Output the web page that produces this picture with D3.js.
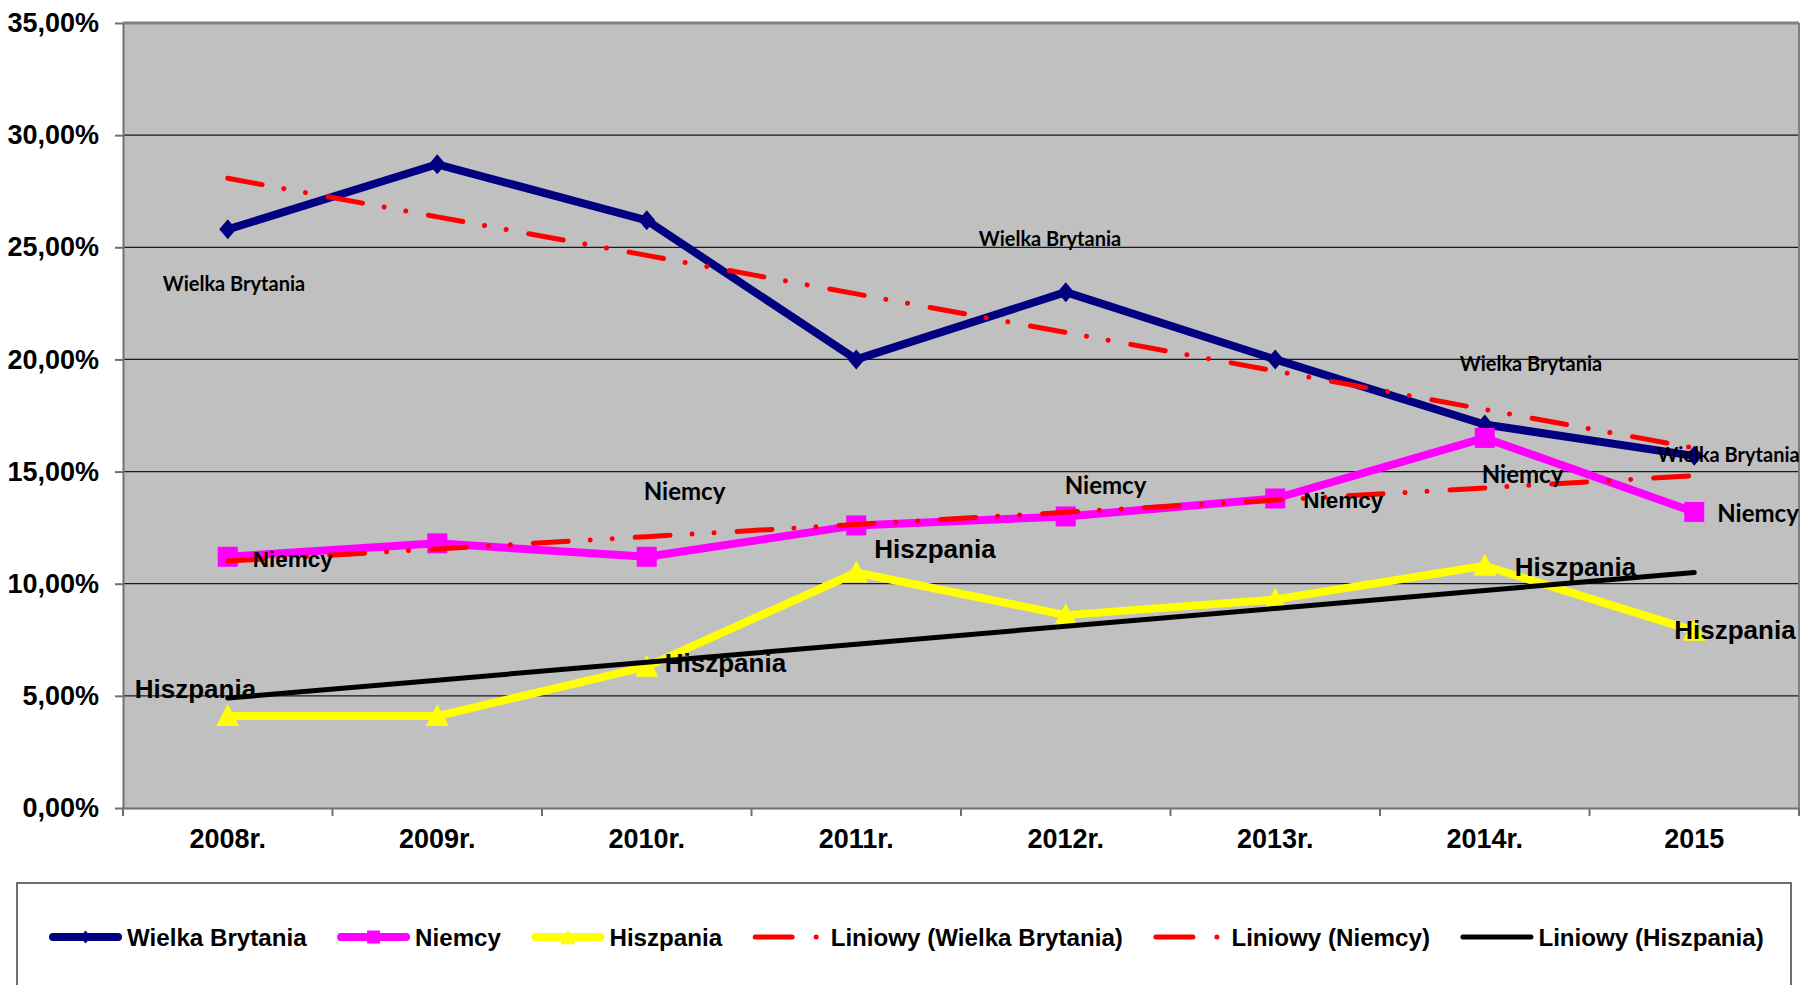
<!DOCTYPE html>
<html><head><meta charset="utf-8">
<script src="https://cdn.jsdelivr.net/npm/d3@7"></script>
<style>html,body{margin:0;padding:0;background:#fff;overflow:hidden}</style>
</head><body>
<svg id="chart" width="1800" height="985"></svg>
<script>
// ---- data ----
const categories = ["2008r.", "2009r.", "2010r.", "2011r.", "2012r.", "2013r.", "2014r.", "2015"];
const seriesNames = ["Wielka Brytania", "Niemcy", "Hiszpania"];
const wielkaBrytania = [25.8, 28.7, 26.2, 20.0, 23.0, 20.0, 17.1, 15.7];
const niemcy = [11.2, 11.8, 11.2, 12.6, 13.0, 13.8, 16.5, 13.2];
const hiszpania = [4.1, 4.1, 6.3, 10.5, 8.6, 9.3, 10.8, 7.9];
const yTickValues = [0, 5, 10, 15, 20, 25, 30, 35];
const trendNames = ["Liniowy (Wielka Brytania)", "Liniowy (Niemcy)", "Liniowy (Hiszpania)"];

// ---- label placement (pixel offsets from each point) ----
const labelLayout = [
  {s:0, i:0, dx:-65, dy:62, f:"c"},
  {s:0, i:4, dx:-87, dy:-46, f:"c"},
  {s:0, i:6, dx:-25, dy:-53, f:"c"},
  {s:0, i:7, dx:-37, dy:6, f:"c"},
  {s:1, i:0, dx:25, dy:10, f:"a"},
  {s:1, i:2, dx:-3, dy:-57, f:"c"},
  {s:1, i:4, dx:-1, dy:-22, f:"c"},
  {s:1, i:5, dx:28, dy:9.5, f:"a"},
  {s:1, i:6, dx:-3, dy:45, f:"c"},
  {s:1, i:7, dx:23, dy:10, f:"c"},
  {s:2, i:0, dx:-93, dy:-18, f:"a"},
  {s:2, i:2, dx:18, dy:5, f:"a"},
  {s:2, i:3, dx:18, dy:-14.5, f:"a"},
  {s:2, i:6, dx:30, dy:10, f:"a"},
  {s:2, i:7, dx:-20, dy:8, f:"a"}
];
const labelFont = {
  0: {c: {fam:"Lato, 'Open Sans', sans-serif", size:20}, a:{fam:"'Liberation Sans', Arial, sans-serif", size:19}},
  1: {c: {fam:"Lato, 'Open Sans', sans-serif", size:24}, a:{fam:"'Liberation Sans', Arial, sans-serif", size:22.5}},
  2: {c: {fam:"Lato, 'Open Sans', sans-serif", size:28}, a:{fam:"'Liberation Sans', Arial, sans-serif", size:26}}
};

const allSeries = [wielkaBrytania, niemcy, hiszpania];
const colors = ["#000080", "#FF00FF", "#FFFF00"];
const trendColors = ["#FF0000", "#FF0000", "#000000"];
const markerTypes = ["diamond", "square", "triangle"];

const W = 1800, H = 985;
const plot = {left: 123, right: 1799, top: 23, bottom: 808};
const ARIAL = "'Liberation Sans', Arial, Helvetica, sans-serif";

const svg = d3.select("#chart");
svg.append("rect").attr("width", W).attr("height", H).attr("fill", "#fff");

const x = d3.scaleBand().domain(categories).range([plot.left, plot.right]).padding(0);
const y = d3.scaleLinear().domain([0, 35]).range([plot.bottom, plot.top]);
const cx = i => x(categories[i]) + x.bandwidth() / 2;

// plot background
svg.append("rect").attr("x", plot.left).attr("y", plot.top)
  .attr("width", plot.right - plot.left).attr("height", plot.bottom - plot.top)
  .attr("fill", "#C0C0C0");

// gridlines
svg.append("g").selectAll("line").data(yTickValues.filter(v => v > 0 && v < 35)).join("line")
  .attr("x1", plot.left).attr("x2", plot.right)
  .attr("y1", d => y(d)).attr("y2", d => y(d))
  .attr("stroke", "#1a1a1a").attr("stroke-width", 1.3);

// plot border (top, right)
svg.append("line").attr("x1", plot.left).attr("x2", plot.right).attr("y1", plot.top).attr("y2", plot.top)
  .attr("stroke", "#808080").attr("stroke-width", 3);
svg.append("line").attr("x1", plot.right).attr("x2", plot.right).attr("y1", plot.top).attr("y2", plot.bottom)
  .attr("stroke", "#808080").attr("stroke-width", 2);

// axes
const pl = d3.formatLocale({decimal: ",", thousands: "\u00a0", grouping: [3], currency: ["", " zł"]});
const fmt = pl.format(".2f");
const yAxis = d3.axisLeft(y).tickValues(yTickValues).tickSize(8).tickSizeOuter(0).tickPadding(16)
  .tickFormat(d => fmt(d) + "%");
svg.append("g").attr("transform", `translate(${plot.left},0)`).call(yAxis)
  .call(g => {
    g.select(".domain").attr("stroke", "#707070").attr("stroke-width", 2);
    g.selectAll(".tick line").attr("stroke", "#707070").attr("stroke-width", 2);
    g.selectAll("text").attr("font-family", ARIAL).attr("font-weight", "bold")
      .attr("font-size", 27).attr("fill", "#000");
  });

const xAxis = d3.axisBottom(x).tickSize(0).tickSizeOuter(0).tickPadding(20.8);
svg.append("g").attr("transform", `translate(0,${plot.bottom})`).call(xAxis)
  .call(g => {
    g.select(".domain").attr("stroke", "#707070").attr("stroke-width", 2);
    g.selectAll("text").attr("font-family", ARIAL).attr("font-weight", "bold")
      .attr("font-size", 27).attr("fill", "#000");
  });
// category boundary ticks
svg.append("g").selectAll("line").data(d3.range(categories.length + 1)).join("line")
  .attr("x1", i => plot.left + i * x.bandwidth()).attr("x2", i => plot.left + i * x.bandwidth())
  .attr("y1", plot.bottom).attr("y2", plot.bottom + 8)
  .attr("stroke", "#707070").attr("stroke-width", 2);

// marker paths
function markerPath(type, s) {
  if (type === "diamond") {
    const h = 10 * s, w = 8.5 * s;
    return `M0,${-h}L${w},0L0,${h}L${-w},0Z`;
  }
  if (type === "square") {
    const a = 10 * s;
    return `M${-a},${-a}H${a}V${a}H${-a}Z`;
  }
  const w = 11.5 * s, h = 11 * s;
  return `M0,${-h}L${w},${h}L${-w},${h}Z`;
}

// series lines + markers
const line = d3.line().x((d, i) => cx(i)).y(d => y(d));
allSeries.forEach((vals, si) => {
  const g = svg.append("g");
  g.append("path").attr("d", line(vals)).attr("fill", "none")
    .attr("stroke", colors[si]).attr("stroke-width", 8)
    .attr("stroke-linejoin", "round").attr("stroke-linecap", "round");
  g.selectAll("path.m").data(vals).join("path").attr("class", "m")
    .attr("transform", (d, i) => `translate(${cx(i)},${y(d) + (markerTypes[si] === "triangle" ? -1 : 0)})`)
    .attr("d", markerPath(markerTypes[si], 1)).attr("fill", colors[si]);
});

// linear trendlines (least squares, x = 1..n)
function linearFit(vals) {
  const n = vals.length;
  const xs = d3.range(1, n + 1);
  const mx = d3.mean(xs), my = d3.mean(vals);
  const b = d3.sum(xs, (xv, k) => (xv - mx) * (vals[k] - my)) / d3.sum(xs, xv => (xv - mx) ** 2);
  const a = my - b * mx;
  return xs.map(xv => a + b * xv);
}
const dashDotDot = "35,22,0.01,22,0.01,23";
allSeries.forEach((vals, si) => {
  const fit = linearFit(vals);
  svg.append("path").attr("d", line(fit)).attr("fill", "none")
    .attr("stroke", trendColors[si]).attr("stroke-width", 5)
    .attr("stroke-linecap", "round")
    .attr("stroke-dasharray", si < 2 ? dashDotDot : null);
});

// data labels
svg.append("g").selectAll("text").data(labelLayout).join("text")
  .attr("x", d => cx(d.i) + d.dx)
  .attr("y", d => y(allSeries[d.s][d.i]) + d.dy)
  .attr("font-family", d => labelFont[d.s][d.f].fam)
  .attr("font-size", d => labelFont[d.s][d.f].size)
  .attr("font-weight", "bold").attr("fill", "#000")
  .text(d => seriesNames[d.s]);

// legend
const legend = svg.append("g");
legend.append("rect").attr("x", 17).attr("y", 883).attr("width", 1774).attr("height", 200)
  .attr("fill", "#fff").attr("stroke", "#404040").attr("stroke-width", 1.5);
const legendItems = [
  ...seriesNames.map((n, k) => ({name: n, type: "series", k})),
  ...trendNames.map((n, k) => ({name: n, type: "trend", k}))
];
let lx = 49;
const ly = 937;
legendItems.forEach(it => {
  const g = legend.append("g");
  if (it.type === "series") {
    g.append("line").attr("x1", lx + 4).attr("x2", lx + 69).attr("y1", ly).attr("y2", ly)
      .attr("stroke", colors[it.k]).attr("stroke-width", 8).attr("stroke-linecap", "round");
    g.append("path").attr("transform", `translate(${lx + 36.5},${ly})`)
      .attr("d", markerPath(markerTypes[it.k], 0.65)).attr("fill", colors[it.k]);
  } else {
    g.append("line").attr("x1", lx + 2.5).attr("x2", lx + 70.5).attr("y1", ly).attr("y2", ly)
      .attr("stroke", trendColors[it.k]).attr("stroke-width", 5).attr("stroke-linecap", "round")
      .attr("stroke-dasharray", it.k < 2 ? "37,24,0.01,40" : null);
  }
  const t = g.append("text").attr("x", lx + 78).attr("y", ly + 8.5)
    .attr("font-family", ARIAL).attr("font-weight", "bold").attr("font-size", 24.15)
    .attr("fill", "#000").text(it.name);
  lx = lx + 78 + t.node().getComputedTextLength() + 30.5;
});
</script>
</body></html>
